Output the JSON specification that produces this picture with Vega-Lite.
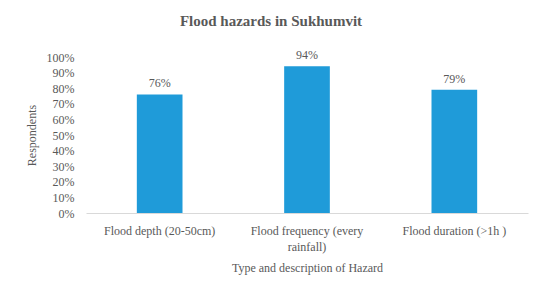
{
  "$schema": "https://vega.github.io/schema/vega-lite/v6.json",
  "width": 442,
  "height": 156,
  "autosize": {"type": "none"},
  "padding": {"left": 86, "top": 57, "right": 22, "bottom": 85},
  "background": "white",
  "title": {
    "text": "Flood hazards in Sukhumvit",
    "font": "Liberation Serif",
    "fontSize": 15,
    "fontWeight": "bold",
    "color": "#595959",
    "anchor": "middle",
    "frame": "group",
    "dx": -36,
    "offset": 20
  },
  "data": {
    "values": [
      {"hazard": "Flood depth (20-50cm)", "value": 0.76},
      {"hazard": "Flood frequency (every rainfall)", "value": 0.94},
      {"hazard": "Flood duration (>1h )", "value": 0.79}
    ]
  },
  "config": {
    "view": {"stroke": null},
    "font": "Liberation Serif",
    "text": {"font": "Liberation Serif"},
    "axis": {
      "labelFont": "Liberation Serif",
      "titleFont": "Liberation Serif",
      "labelColor": "#595959",
      "titleColor": "#595959",
      "labelFontSize": 12,
      "titleFontSize": 12,
      "titleFontWeight": "normal"
    }
  },
  "encoding": {
    "x": {
      "field": "hazard",
      "type": "nominal",
      "sort": null,
      "scale": {"paddingInner": 0.69, "paddingOuter": 0.345},
      "axis": {
        "title": "Type and description of Hazard",
        "labelAngle": 0,
        "ticks": false,
        "domainColor": "#d9d9d9",
        "labelPadding": 12,
        "titlePadding": 10,
        "labelLimit": 200,
        "labelLineHeight": 16,
        "labelExpr": "datum.label == 'Flood frequency (every rainfall)' ? ['Flood frequency (every', 'rainfall)'] : datum.label"
      }
    },
    "y": {
      "field": "value",
      "type": "quantitative",
      "scale": {"domain": [0, 1], "nice": false},
      "axis": {
        "title": "Respondents",
        "values": [0, 0.1, 0.2, 0.3, 0.4, 0.5, 0.6, 0.7, 0.8, 0.9, 1],
        "format": ".0%",
        "grid": false,
        "ticks": false,
        "domain": false,
        "labelPadding": 12,
        "titlePadding": 8
      }
    }
  },
  "layer": [
    {"mark": {"type": "bar", "color": "#1F9BD9"}},
    {
      "mark": {"type": "text", "dy": -11, "fontSize": 12, "color": "#595959", "font": "Liberation Serif"},
      "encoding": {"text": {"field": "value", "type": "quantitative", "format": ".0%"}}
    }
  ]
}
